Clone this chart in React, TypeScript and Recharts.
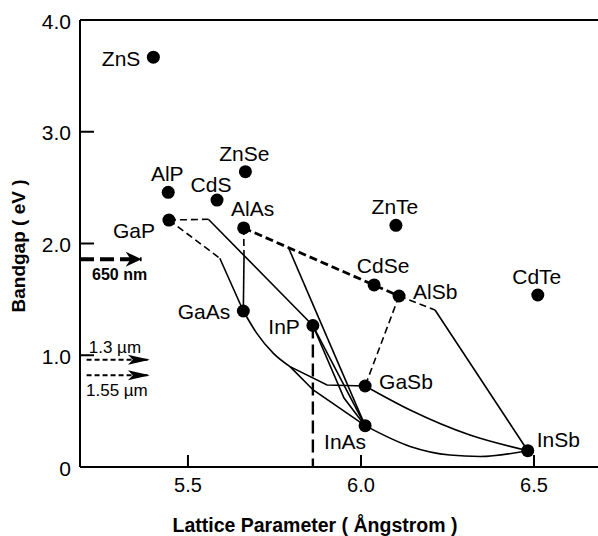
import React from 'react';
import { ComposedChart, Line, Scatter, XAxis, YAxis, ReferenceLine } from 'recharts';

const FONT = "'Liberation Sans', Arial, Helvetica, sans-serif";

// ---- compounds (lattice parameter in Å, bandgap in eV) ----
const compoundNames = ['ZnS', 'AlP', 'GaP', 'CdS', 'ZnSe', 'AlAs', 'ZnTe', 'CdSe', 'AlSb', 'CdTe', 'GaAs', 'InP', 'GaSb', 'InAs', 'InSb'];
const latticeValues = [5.4, 5.443, 5.445, 5.584, 5.666, 5.661, 6.101, 6.038, 6.11, 6.511, 5.66, 5.861, 6.012, 6.012, 6.482];
const bandgapValues = [3.667, 2.458, 2.21, 2.389, 2.643, 2.139, 2.163, 1.629, 1.53, 1.539, 1.396, 1.266, 0.725, 0.37, 0.146];
const labelSides = ['left', 'above', 'leftLow', 'aboveLeft', 'above', 'aboveRight', 'above', 'aboveRight', 'right', 'above', 'left', 'left', 'right', 'belowLeft', 'rightHigh'];

// ---- axis ticks ----
const xTicks = [5.5, 6.0, 6.5];
const yTicks = [0, 1, 2, 3, 4];
const xDomain = [5.188, 6.685];
const yDomain = [0, 4];

// ---- alloy lines ----
const gapInpIndirect = [{ x: 5.445, y: 2.21 }, { x: 5.559, y: 2.217 }];
const gapInpDirect = [{ x: 5.559, y: 2.217 }, { x: 5.861, y: 1.266 }];
const gapGaasIndirect = [{ x: 5.445, y: 2.21 }, { x: 5.592, y: 1.868 }];
const gapGaasDirect = [{ x: 5.592, y: 1.868 }, { x: 5.66, y: 1.396 }];
const alasGaasIndirect = [{ x: 5.661, y: 2.139 }, { x: 5.662, y: 1.882 }];
const alasGaasDirect = [{ x: 5.662, y: 1.882 }, { x: 5.66, y: 1.396 }];
const alasAlsb = [{ x: 5.661, y: 2.139 }, { x: 6.11, y: 1.53 }];
const alasInasDirect = [{ x: 5.79, y: 1.966 }, { x: 6.012, y: 0.37 }];
const inpInasStraight = [{ x: 5.861, y: 1.266 }, { x: 6.012, y: 0.37 }];
const inpInasBent = [{ x: 5.861, y: 1.266 }, { x: 5.951, y: 0.617 }, { x: 6.012, y: 0.37 }];
const gaasBranch = [{ x: 5.66, y: 1.396 }, { x: 5.699, y: 1.196 }, { x: 5.747, y: 1.017 }, { x: 5.795, y: 0.898 }];
const gaasToInas = [{ x: 5.795, y: 0.898 }, { x: 5.862, y: 0.689 }, { x: 6.012, y: 0.37 }];
const gaasToGasb = [{ x: 5.795, y: 0.898 }, { x: 5.902, y: 0.734 }, { x: 6.012, y: 0.725 }];
const gasbInsb = [{ x: 6.012, y: 0.725 }, { x: 6.142, y: 0.51 }, { x: 6.315, y: 0.286 }, { x: 6.482, y: 0.146 }];
const inasInsb = [{ x: 6.012, y: 0.37 }, { x: 6.142, y: 0.184 }, { x: 6.257, y: 0.107 }, { x: 6.344, y: 0.094 }, { x: 6.482, y: 0.146 }];
const alsbGasb = [{ x: 6.11, y: 1.53 }, { x: 6.012, y: 0.725 }];
const alsbInsbIndirect = [{ x: 6.11, y: 1.53 }, { x: 6.214, y: 1.405 }];
const alsbInsbDirect = [{ x: 6.214, y: 1.405 }, { x: 6.482, y: 0.146 }];
const inpMatched = [{ x: 5.861, y: 1.266 }, { x: 5.861, y: 0 }];

// ---- wavelength arrows ----
const arrowLabels = ['650 nm', '1.3 µm', '1.55 µm'];
const arrowEnergies = [1.86, 0.96, 0.82];
const arrowFrom = [5.188, 5.207, 5.207];
const arrowTo = [5.366, 5.39, 5.39];

const compounds = compoundNames.map((name, i) => ({ name, x: latticeValues[i], y: bandgapValues[i], side: labelSides[i] }));

const sideStyle: Record<string, { dx: number; dy: number; anchor: string }> = {
  left: { dx: -13, dy: 1, anchor: 'end' },
  leftLow: { dx: -14, dy: 10, anchor: 'end' },
  above: { dx: -1, dy: -18.5, anchor: 'middle' },
  aboveLeft: { dx: -6, dy: -16, anchor: 'middle' },
  aboveRight: { dx: 9, dy: -19, anchor: 'middle' },
  right: { dx: 14, dy: -4.5, anchor: 'start' },
  rightHigh: { dx: 9, dy: -11, anchor: 'start' },
  belowLeft: { dx: -20, dy: 15.5, anchor: 'middle' },
};

const arrowStyles = [
  { width: 4, dash: '14 6', head: 'M0,0 L-16,-7.5 L-11,0 L-16,7.5 Z', bold: true, size: 16, ldx: -22, ldy: 15.5 },
  { width: 2, dash: '5 3', head: 'M0,0 L-22,-5 L-17,0 L-22,5 Z', bold: false, size: 17, ldx: -35, ldy: -12.5 },
  { width: 2, dash: '5 3', head: 'M0,0 L-22,-5 L-17,0 L-22,5 Z', bold: false, size: 17, ldx: -33, ldy: 15 },
];

const CompoundDot = (props: any) => {
  const { cx, cy, payload } = props;
  if (cx == null || cy == null) return <g />;
  const s = sideStyle[payload.side];
  return (
    <g>
      <circle cx={cx} cy={cy} r={6.5} fill="#000" />
      <text x={cx + s.dx} y={cy + s.dy} textAnchor={s.anchor} dominantBaseline="central" fontFamily={FONT} fontSize={21} fill="#000">
        {payload.name}
      </text>
    </g>
  );
};

const makeArrowDot = (i: number) => (props: any) => {
  const { cx, cy, index } = props;
  const st = arrowStyles[i];
  if (index !== 1 || cx == null) return <g key={`ad-${i}-${index}`} />;
  return (
    <g key={`ad-${i}-${index}`}>
      <path d={st.head} transform={`translate(${cx},${cy})`} fill="#000" />
      <text x={cx + st.ldx} y={cy + st.ldy} textAnchor="middle" dominantBaseline="central" fontFamily={FONT} fontSize={st.size} fontWeight={st.bold ? 'bold' : 'normal'} fill="#000">
        {arrowLabels[i]}
      </text>
    </g>
  );
};

const XTick = (props: any) => {
  const { x, y, payload } = props;
  return (
    <g>
      <line x1={x} x2={x} y1={y} y2={y - 12} stroke="#000" strokeWidth={2} />
      <text x={x} y={y + 18} textAnchor="middle" dominantBaseline="central" fontFamily={FONT} fontSize={20} fill="#000">
        {Number(payload.value).toFixed(1)}
      </text>
    </g>
  );
};

const Y_MARGIN = 7;
const YTick = (props: any) => {
  const { x, y, payload } = props;
  const v = Number(payload.value);
  return (
    <g>
      {v > 0 && v < 4 ? <line x1={x + Y_MARGIN} x2={x + Y_MARGIN + 14} y1={y} y2={y} stroke="#000" strokeWidth={2} /> : null}
      <text x={x - 2} y={y + 1} textAnchor="end" dominantBaseline="central" fontFamily={FONT} fontSize={21} fill="#000">
        {v === 0 ? '0' : v.toFixed(1)}
      </text>
    </g>
  );
};

const thinDash = { stroke: '#000', strokeWidth: 1.6, strokeDasharray: '7 4' };
const solid = { stroke: '#000', strokeWidth: 1.6 };

export default function App() {
  const lineProps = { dot: false, activeDot: false, isAnimationActive: false, dataKey: 'y', legendType: 'none' as const };
  return (
    <div style={{ position: 'absolute', left: 0, top: 0, width: 598, height: 536, background: '#fff' }}>
      <ComposedChart width={598} height={536} margin={{ top: 20, right: 0, bottom: 0, left: 0 }}>
        <XAxis
          type="number"
          dataKey="x"
          domain={xDomain}
          ticks={xTicks}
          interval={0}
          allowDataOverflow
          height={69}
          tickSize={0}
          tickMargin={0}
          tickLine={false}
          axisLine={{ stroke: '#000', strokeWidth: 2 }}
          tick={<XTick />}
          label={() => (
            <text x={315} y={532} textAnchor="middle" fontFamily={FONT} fontSize={19.5} fontWeight="bold" fill="#000">
              Lattice Parameter ( Ångstrom )
            </text>
          )}
        />
        <YAxis
          type="number"
          dataKey="y"
          domain={yDomain}
          ticks={yTicks}
          interval={0}
          allowDataOverflow
          width={80}
          tickSize={0}
          tickMargin={Y_MARGIN}
          tickLine={false}
          axisLine={{ stroke: '#000', strokeWidth: 2 }}
          tick={<YTick />}
          label={() => (
            <text x={25} y={246} transform="rotate(-90 25 246)" textAnchor="middle" fontFamily={FONT} fontSize={19} fontWeight="bold" fill="#000">
              Bandgap ( eV )
            </text>
          )}
        />
        <ReferenceLine y={4} stroke="#000" strokeWidth={2} ifOverflow="visible" />

        <Line {...lineProps} data={gapInpIndirect} {...thinDash} />
        <Line {...lineProps} data={gapInpDirect} {...solid} />
        <Line {...lineProps} data={gapGaasIndirect} {...thinDash} />
        <Line {...lineProps} data={gapGaasDirect} {...solid} />
        <Line {...lineProps} data={alasGaasIndirect} {...thinDash} />
        <Line {...lineProps} data={alasGaasDirect} {...solid} />
        <Line {...lineProps} data={alasAlsb} stroke="#000" strokeWidth={2.8} strokeDasharray="8 4" />
        <Line {...lineProps} data={alasInasDirect} {...solid} />
        <Line {...lineProps} data={inpInasStraight} {...solid} />
        <Line {...lineProps} data={inpInasBent} {...solid} />
        <Line {...lineProps} data={gaasBranch} type="monotone" {...solid} />
        <Line {...lineProps} data={gaasToInas} {...solid} />
        <Line {...lineProps} data={gaasToGasb} {...solid} />
        <Line {...lineProps} data={gasbInsb} type="monotone" {...solid} />
        <Line {...lineProps} data={inasInsb} type="monotone" {...solid} />
        <Line {...lineProps} data={alsbGasb} {...thinDash} />
        <Line {...lineProps} data={alsbInsbIndirect} {...thinDash} />
        <Line {...lineProps} data={alsbInsbDirect} {...solid} />
        <Line {...lineProps} data={inpMatched} stroke="#000" strokeWidth={2.4} strokeDasharray="13 6" />

        {arrowLabels.map((lab, i) => (
          <Line
            key={lab}
            {...lineProps}
            data={[{ x: arrowFrom[i], y: arrowEnergies[i] }, { x: arrowTo[i], y: arrowEnergies[i] }]}
            stroke="#000"
            strokeWidth={arrowStyles[i].width}
            strokeDasharray={arrowStyles[i].dash}
            dot={makeArrowDot(i)}
          />
        ))}

        <Scatter data={compounds} dataKey="y" isAnimationActive={false} shape={<CompoundDot />} legendType="none" />
      </ComposedChart>
    </div>
  );
}
